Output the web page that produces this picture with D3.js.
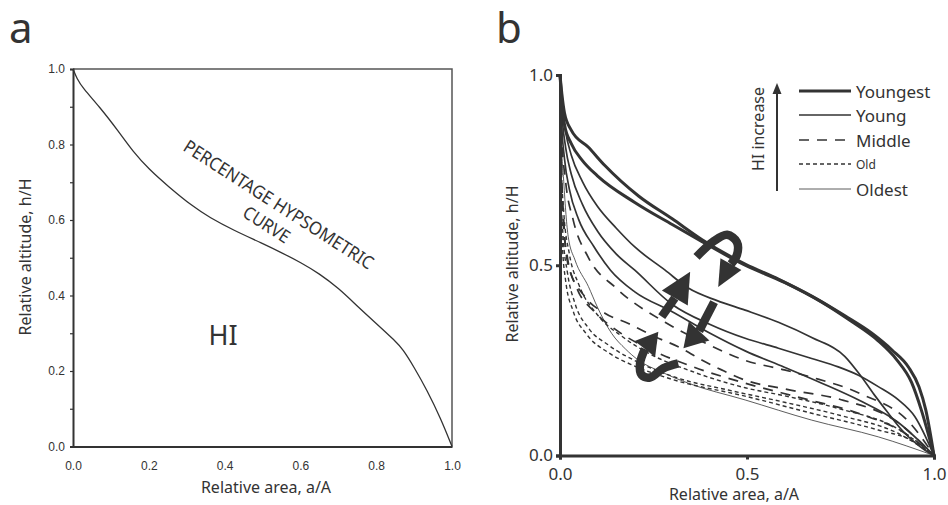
<!DOCTYPE html>
<html>
<head>
<meta charset="utf-8">
<script src="https://cdn.jsdelivr.net/npm/d3@7"></script>
<style>
  body { margin: 0; background: #fff; }
  svg { display: block; font-family: "Noto Sans", sans-serif; }
</style>
</head>
<body>
<svg id="chart" width="948" height="505"></svg>
<script>
    var ink = "#333";

    // ---- panel a: one percentage hypsometric curve
    var hypArea = [0, 0.01, 0.026, 0.07, 0.12, 0.159, 0.2, 0.25, 0.317, 0.36, 0.423, 0.5, 0.555, 0.6, 0.65, 0.7, 0.75, 0.8, 0.85, 0.87, 0.9, 0.934, 0.97, 1.0];
    var hypAlt  = [1, 0.975, 0.949, 0.90, 0.835, 0.78, 0.735, 0.69, 0.635, 0.607, 0.573, 0.538, 0.511, 0.488, 0.458, 0.42, 0.372, 0.326, 0.28, 0.258, 0.21, 0.149, 0.075, 0.0];
    var ticksA = [0, 0.2, 0.4, 0.6, 0.8, 1.0];
    var minorTicksA = [0, 0.1, 0.2, 0.3, 0.4, 0.5, 0.6, 0.7, 0.8, 0.9, 1.0];

    // ---- panel b: curve families, [relative area, relative altitude]
    var youngest1 = [[0,1],[0.005,0.95],[0.012,0.9],[0.03,0.855],[0.076,0.81],[0.12,0.762],[0.21,0.682],[0.3,0.622],[0.38,0.567],[0.495,0.503],[0.585,0.463],[0.673,0.419],[0.762,0.367],[0.833,0.322],[0.887,0.278],[0.932,0.232],[0.96,0.18],[0.978,0.12],[1,0]];
    var youngest2 = [[0,1],[0.005,0.93],[0.012,0.87],[0.03,0.82],[0.06,0.775],[0.1,0.735],[0.2,0.665],[0.3,0.607],[0.38,0.562],[0.495,0.5],[0.6,0.455],[0.7,0.403],[0.78,0.352],[0.85,0.302],[0.9,0.252],[0.94,0.192],[0.966,0.12],[1,0]];
    var young1 = [[0,1],[0.005,0.92],[0.015,0.85],[0.03,0.79],[0.06,0.72],[0.1,0.655],[0.15,0.598],[0.2,0.548],[0.281,0.487],[0.343,0.44],[0.42,0.407],[0.495,0.382],[0.584,0.35],[0.673,0.31],[0.762,0.26],[0.802,0.212],[0.84,0.16],[0.878,0.111],[0.914,0.067],[0.976,0.014],[1,0]];
    var young2 = [[0,1],[0.005,0.9],[0.015,0.81],[0.03,0.74],[0.06,0.66],[0.1,0.59],[0.15,0.53],[0.2,0.487],[0.3,0.397],[0.4,0.345],[0.495,0.308],[0.584,0.282],[0.673,0.255],[0.744,0.233],[0.798,0.211],[0.851,0.181],[0.905,0.146],[0.949,0.102],[1,0]];
    var young3 = [[0,1],[0.004,0.88],[0.012,0.78],[0.025,0.7],[0.05,0.62],[0.09,0.55],[0.135,0.487],[0.2,0.43],[0.3,0.378],[0.4,0.322],[0.495,0.275],[0.6,0.232],[0.7,0.19],[0.8,0.145],[0.9,0.09],[1,0]];
    var middle1 = [[0,1],[0.004,0.85],[0.015,0.72],[0.035,0.62],[0.076,0.52],[0.15,0.44],[0.281,0.35],[0.4,0.29],[0.495,0.25],[0.6,0.225],[0.668,0.207],[0.802,0.163],[0.936,0.085],[1,0]];
    var middle2 = [[0,1],[0.003,0.8],[0.01,0.62],[0.022,0.5],[0.067,0.417],[0.12,0.374],[0.183,0.347],[0.254,0.312],[0.316,0.286],[0.379,0.251],[0.432,0.225],[0.495,0.198],[0.6,0.175],[0.758,0.145],[0.891,0.095],[1,0]];
    var middle3 = [[0,1],[0.003,0.77],[0.008,0.62],[0.02,0.52],[0.045,0.44],[0.09,0.38],[0.15,0.33],[0.25,0.275],[0.35,0.235],[0.495,0.19],[0.65,0.15],[0.8,0.11],[0.92,0.06],[1,0]];
    var old1 = [[0,1],[0.002,0.72],[0.008,0.58],[0.02,0.48],[0.04,0.40],[0.076,0.335],[0.13,0.29],[0.22,0.24],[0.31,0.205],[0.45,0.172],[0.6,0.14],[0.75,0.105],[0.9,0.06],[1,0]];
    var old2 = [[0,1],[0.003,0.78],[0.01,0.64],[0.025,0.53],[0.05,0.45],[0.1,0.37],[0.17,0.31],[0.25,0.262],[0.35,0.222],[0.495,0.178],[0.6,0.157],[0.75,0.122],[0.9,0.072],[1,0]];
    var old3 = [[0,1],[0.002,0.7],[0.006,0.56],[0.015,0.46],[0.035,0.38],[0.07,0.32],[0.13,0.27],[0.2,0.235],[0.3,0.2],[0.495,0.156],[0.673,0.111],[0.851,0.067],[0.94,0.04],[1,0]];
    var oldest1 = [[0,1],[0.003,0.85],[0.01,0.72],[0.022,0.575],[0.04,0.514],[0.076,0.444],[0.1,0.39],[0.138,0.321],[0.175,0.28],[0.209,0.251],[0.27,0.22],[0.343,0.19],[0.495,0.146],[0.673,0.093],[0.851,0.049],[1,0]];

    var ageClasses = ["Youngest", "Young", "Middle", "Old", "Oldest"];
    var classCurves = [[youngest1, youngest2], [young1, young2, young3], [middle1, middle2, middle3], [old1, old2, old3], [oldest1]];
    var ticksB = [0, 0.5, 1.0];

    // evolution arrows (last point = tip, one before = head base)
    var arrows = [
      {pts: [[0.316,0.242],[0.276,0.229],[0.241,0.205],[0.218,0.212],[0.214,0.242],[0.227,0.28],[0.263,0.325]], head: 13},
      {pts: [[0.272,0.365],[0.307,0.414],[0.348,0.483]], head: 15},
      {pts: [[0.412,0.403],[0.372,0.327],[0.33,0.282]], head: 14},
      {pts: [[0.365,0.522],[0.409,0.562],[0.447,0.58],[0.473,0.561],[0.473,0.527],[0.457,0.503],[0.423,0.443]], head: 12}
    ];

    // line styles per age class
    var styles = {
      "Youngest": {w: 3, dash: null},
      "Young":    {w: 1.7, dash: null},
      "Middle":   {w: 1.7, dash: "10,8"},
      "Old":      {w: 1.4, dash: "4,3"},
      "Oldest":   {w: 0.8, dash: null}
    };

    var svg = d3.select("#chart");

    // ================= panel a =================
    var xA = d3.scaleLinear().domain([0, 1]).range([73, 452]);
    var yA = d3.scaleLinear().domain([0, 1]).range([446.5, 69]);

    svg.append("text").attr("x", 9).attr("y", 43)
      .attr("font-size", 42).attr("fill", ink).text("a");

    var gA = svg.append("g");
    // frame top / right
    gA.append("path")
      .attr("d", "M" + xA(0) + "," + yA(1) + "H" + xA(1) + "V" + yA(0))
      .attr("fill", "none").attr("stroke", "#555").attr("stroke-width", 1.5);

    var axLA = gA.append("g").attr("transform", "translate(" + xA(0) + ",0)")
      .call(d3.axisLeft(yA).tickValues(minorTicksA).tickSize(3).tickPadding(5)
        .tickFormat(function(d) { return Math.round(d * 10) % 2 === 0 ? d3.format(".1f")(d) : ""; }));
    var axBA = gA.append("g").attr("transform", "translate(0," + yA(0) + ")")
      .call(d3.axisBottom(xA).tickValues(ticksA).tickSize(0).tickPadding(15).tickFormat(d3.format(".1f")));
    [axLA, axBA].forEach(function(ax) {
      ax.select(".domain").attr("stroke", ink).attr("stroke-width", 2);
      ax.selectAll(".tick line").attr("stroke", ink).attr("stroke-width", 1.2);
      ax.selectAll("text").attr("fill", ink).attr("font-size", 12)
        .attr("font-family", "'Liberation Sans Narrow', 'Liberation Sans', sans-serif");
    });

    var hypData = hypArea.map(function(a, i) { return [a, hypAlt[i]]; });
    gA.append("path").datum(hypData)
      .attr("d", d3.line().x(function(d) { return xA(d[0]); }).y(function(d) { return yA(d[1]); }).curve(d3.curveBasis))
      .attr("fill", "none").attr("stroke", ink).attr("stroke-width", 1.3);

    var ang = 32.8;
    gA.append("text").attr("transform", "translate(279,204) rotate(" + ang + ")")
      .attr("text-anchor", "middle").attr("dominant-baseline", "central")
      .attr("font-size", 18).attr("textLength", 222).attr("lengthAdjust", "spacingAndGlyphs")
      .attr("fill", ink).text("PERCENTAGE HYPSOMETRIC");
    gA.append("text").attr("transform", "translate(267,224) rotate(" + ang + ")")
      .attr("text-anchor", "middle").attr("dominant-baseline", "central")
      .attr("font-size", 18).attr("textLength", 52).attr("lengthAdjust", "spacingAndGlyphs")
      .attr("fill", ink).text("CURVE");
    gA.append("text").attr("x", 223).attr("y", 345).attr("text-anchor", "middle")
      .attr("font-size", 27).attr("fill", ink).text("HI");

    gA.append("text").attr("x", 266).attr("y", 493).attr("text-anchor", "middle")
      .attr("font-size", 16).attr("fill", ink).text("Relative area, a/A");
    gA.append("text").attr("transform", "translate(25,257) rotate(-90)")
      .attr("text-anchor", "middle").attr("dominant-baseline", "central")
      .attr("font-size", 16).attr("fill", ink).text("Relative altitude, h/H");

    // ================= panel b =================
    var xB = d3.scaleLinear().domain([0, 1]).range([560, 934]);
    var yB = d3.scaleLinear().domain([0, 1]).range([455.5, 75]);

    svg.append("text").attr("x", 496).attr("y", 43)
      .attr("font-size", 42).attr("fill", ink).text("b");

    var gB = svg.append("g");
    var lineB = d3.line().x(function(d) { return xB(d[0]); }).y(function(d) { return yB(d[1]); }).curve(d3.curveMonotoneX);

    ageClasses.slice().reverse().forEach(function(cls) {
      var i = ageClasses.indexOf(cls);
      gB.append("g").selectAll("path").data(classCurves[i]).enter().append("path")
        .attr("d", lineB)
        .attr("fill", "none").attr("stroke", ink)
        .attr("stroke-width", styles[cls].w)
        .attr("stroke-dasharray", styles[cls].dash);
    });

    // arrows
    var gArr = gB.append("g");
    arrows.forEach(function(ar) {
      var p = ar.pts.map(function(d) { return [xB(d[0]), yB(d[1])]; });
      var tip = p[p.length - 1], base = p[p.length - 2];
      gArr.append("path")
        .attr("d", d3.line().curve(d3.curveCatmullRom)(p.slice(0, p.length - 1)))
        .attr("fill", "none").attr("stroke", ink).attr("stroke-width", 8.5);
      var dx = tip[0] - base[0], dy = tip[1] - base[1], L = Math.sqrt(dx * dx + dy * dy);
      var nx = -dy / L * ar.head, ny = dx / L * ar.head;
      gArr.append("path")
        .attr("d", "M" + tip[0] + "," + tip[1] + "L" + (base[0] + nx) + "," + (base[1] + ny) +
          "L" + (base[0] - nx) + "," + (base[1] - ny) + "Z")
        .attr("fill", ink);
    });

    var axLB = gB.append("g").attr("transform", "translate(" + xB(0) + ",0)")
      .call(d3.axisLeft(yB).tickValues(ticksB).tickSize(4).tickPadding(3).tickFormat(d3.format(".1f")));
    var axBB = gB.append("g").attr("transform", "translate(0," + yB(0) + ")")
      .call(d3.axisBottom(xB).tickValues(ticksB).tickSize(4).tickPadding(8).tickFormat(d3.format(".1f")));
    [axLB, axBB].forEach(function(ax) {
      ax.select(".domain").attr("stroke", ink).attr("stroke-width", 3);
      ax.selectAll(".tick line").attr("stroke", ink).attr("stroke-width", 3);
      ax.selectAll("text").attr("fill", ink).attr("font-size", 17).attr("font-family", "'Noto Sans', sans-serif");
    });

    gB.append("text").attr("x", 734).attr("y", 500).attr("text-anchor", "middle")
      .attr("font-size", 16).attr("fill", ink).text("Relative area, a/A");
    gB.append("text").attr("transform", "translate(512,264) rotate(-90)")
      .attr("text-anchor", "middle").attr("dominant-baseline", "central")
      .attr("font-size", 16).attr("fill", ink).text("Relative altitude, h/H");

    // legend
    var legRows = [91, 115, 140, 164, 189];
    var gL = gB.append("g");
    ageClasses.forEach(function(cls, i) {
      gL.append("line").attr("x1", 799).attr("x2", 851).attr("y1", legRows[i]).attr("y2", legRows[i])
        .attr("stroke", ink).attr("stroke-width", styles[cls].w)
        .attr("stroke-dasharray", styles[cls].dash);
      gL.append("text").attr("x", 856).attr("y", legRows[i]).attr("dominant-baseline", "central")
        .attr("font-size", cls === "Old" ? 12 : 17).attr("fill", ink).text(cls);
    });
    gL.append("line").attr("x1", 777).attr("x2", 777).attr("y1", 191).attr("y2", 92)
      .attr("stroke", ink).attr("stroke-width", 2);
    gL.append("path").attr("d", "M777,83L772.5,94L781.5,94Z").attr("fill", ink);
    gL.append("text").attr("transform", "translate(758,129) rotate(-90)")
      .attr("text-anchor", "middle").attr("dominant-baseline", "central")
      .attr("font-size", 16).attr("fill", ink).text("HI increase");
</script>
</body>
</html>
